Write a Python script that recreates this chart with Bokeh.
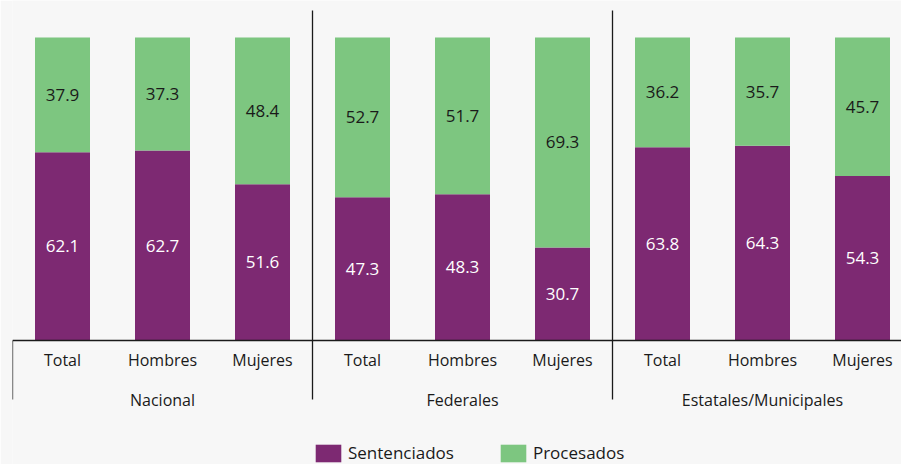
from bokeh.plotting import figure
from bokeh.models import ColumnDataSource, Range1d, Legend, LegendItem
from bokeh.core.properties import value
from bokeh.embed import file_html
from bokeh.resources import INLINE

groups = ["Nacional", "Federales", "Estatales/Municipales"]
subcats = ["Total", "Hombres", "Mujeres"]
sentenciados = [62.1, 62.7, 51.6, 47.3, 48.3, 30.7, 63.8, 64.3, 54.3]
procesados = [37.9, 37.3, 48.4, 52.7, 51.7, 69.3, 36.2, 35.7, 45.7]

PURPLE = "#7D2972"
GREEN = "#7DC680"
BG = "#F7F7F7"
INK = "#1A1A1A"
FONT = value("Open Sans")

n = len(sentenciados)
xs = list(range(n))
totals = [s + q for s, q in zip(sentenciados, procesados)]
src = ColumnDataSource(dict(
    x=xs,
    sen=sentenciados,
    tot=totals,
    sen_mid=[s / 2 for s in sentenciados],
    pro_mid=[s + q / 2 for s, q in zip(sentenciados, procesados)],
    sen_lab=[f"{s:.1f}" for s in sentenciados],
    pro_lab=[f"{q:.1f}" for q in procesados],
    cat=[subcats[i % 3] for i in xs],
))

p = figure(width=901, height=464, output_backend="svg", toolbar_location=None,
           x_range=Range1d(-0.5, 8.39), y_range=Range1d(-40.92, 112.21),
           x_axis_location=None, y_axis_location=None,
           min_border_left=12, min_border_right=0, min_border_top=0, min_border_bottom=0)
p.grid.visible = False
p.outline_line_color = None
p.background_fill_color = BG
p.border_fill_color = BG

r1 = p.vbar(x="x", width=0.55, bottom=0, top="sen", source=src,
            fill_color=PURPLE, line_color=None)
r2 = p.vbar(x="x", width=0.55, bottom="sen", top="tot", source=src,
            fill_color=GREEN, line_color=None)

p.text(x="x", y="sen_mid", text="sen_lab", source=src, text_align="center",
       text_baseline="middle", text_font=FONT, text_font_size="17px", text_color="white")
p.text(x="x", y="pro_mid", text="pro_lab", source=src, text_align="center",
       text_baseline="middle", text_font=FONT, text_font_size="17px", text_color=INK)

# category labels
p.text(x="x", y=-6.3, text="cat", source=src, text_align="center",
       text_baseline="middle", text_font=FONT, text_font_size="16px", text_color=INK)
# group labels
gx = [3 * i + 1 for i in range(len(groups))]
p.text(x=gx, y=[-19.5] * len(groups), text=groups, text_align="center",
       text_baseline="middle", text_font=FONT, text_font_size="16px", text_color=INK)

# baseline and separators
p.segment(x0=[-0.5], y0=[0], x1=[n], y1=[0], line_color=INK, line_width=1.3)
sep_x = [3 * i - 0.5 for i in range(len(groups))]
sep_top = [0] + [108.9] * (len(groups) - 1)
p.segment(x0=sep_x, y0=[-19.5] * len(sep_x), x1=sep_x, y1=sep_top,
          line_color=INK, line_width=1.3)

legend = Legend(items=[LegendItem(label="Sentenciados", renderers=[r1]),
                       LegendItem(label="Procesados", renderers=[r2])],
                location=(300, 0), orientation="horizontal",
                glyph_width=32, glyph_height=22, label_height=22,
                label_standoff=4, spacing=43,
                padding=0, margin=0, border_line_color=None, background_fill_alpha=0,
                label_text_font="Open Sans", label_text_font_size="17px",
                label_text_color=INK)
p.add_layout(legend)

open("out.html", "w").write(file_html(p, INLINE))
